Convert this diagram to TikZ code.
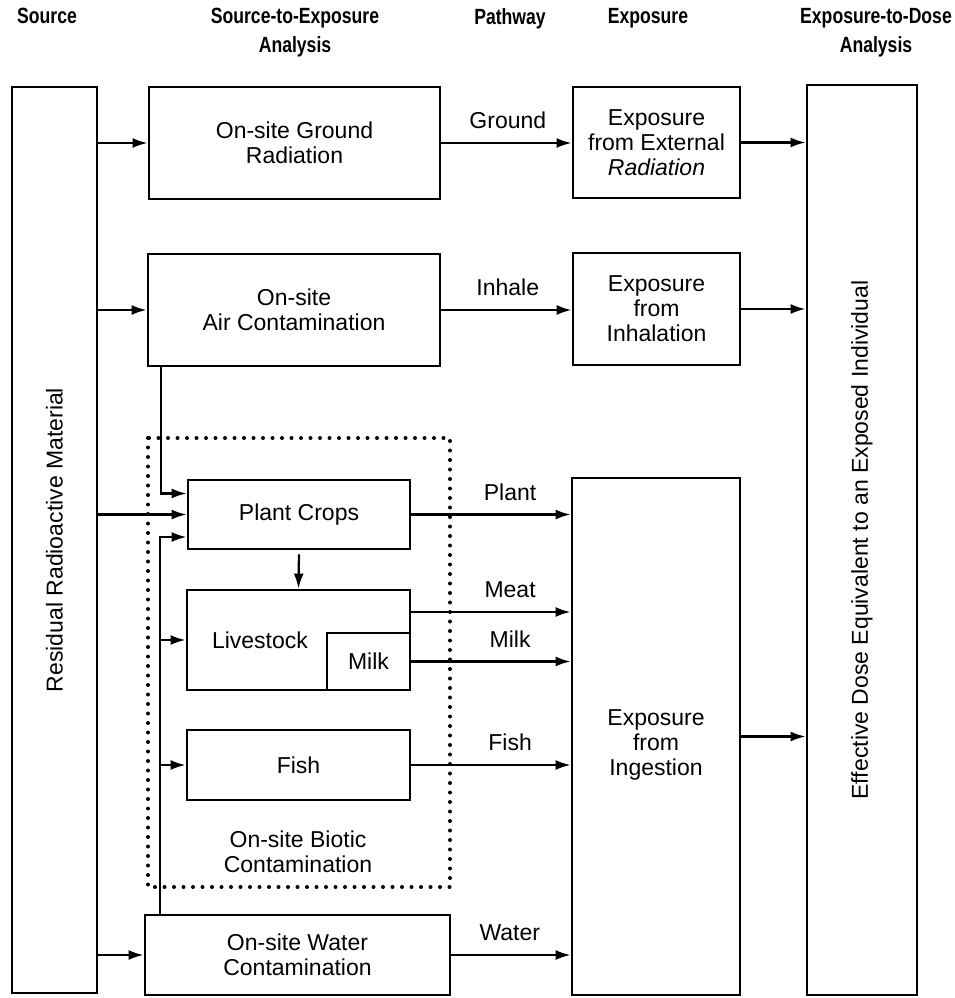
\documentclass[tikz,border=0pt]{standalone}
\usepackage{fontspec}
\setmainfont{Liberation Sans}
\newfontfamily\hdrfont[FakeStretch=0.8]{Liberation Sans}
\usetikzlibrary{arrows.meta,calc}
\begin{document}
\begin{tikzpicture}[x=1pt,y=-1pt,
  bodyf/.style={font={\fontsize{23}{25}\selectfont}},
  box/.style={draw, line width=2.8pt, inner sep=0pt, align=center, bodyf},
  conn/.style={line width=2.2pt, -{Latex[length=15pt,width=10pt]}},
  lbl/.style={bodyf, inner sep=0pt, above=13pt},
  hdr/.style={font={\hdrfont\bfseries\fontsize{22}{29}\selectfont}, align=center, anchor=north, inner sep=0pt},
  dotbox/.style={line width=4pt, line cap=round, dash pattern=on 0pt off 9.5pt}
]
\useasboundingbox (0,0) rectangle (955,998);

% headers
\node[hdr] (h1) at (47,8) {Source};
\node[hdr] (h2) at (295,8) {Source-to-Exposure\\Analysis};
\node[hdr] (h3) at (510,8) {Pathway};
\node[hdr] (h4) at (648,8) {Exposure};
\node[hdr] (h5) at (876,8) {Exposure-to-Dose\\Analysis};

% boxes
\node[box, minimum width=85pt, minimum height=906pt] (src) at (54.5,540) {};
\node[bodyf, rotate=90] (srct) at (src.center) {Residual Radioactive Material};
\node[box, minimum width=291pt, minimum height=112pt] (ground) at (294.5,143) {On-site Ground\\Radiation};
\node[box, minimum width=292pt, minimum height=112pt] (air) at (294,310) {On-site\\Air Contamination};
\node[box, minimum width=167pt, minimum height=111pt] (extrad) at (656.5,142.5) {Exposure\\from External\\\textit{Radiation}};
\node[box, minimum width=167pt, minimum height=112pt] (inhal) at (656.5,309) {Exposure\\from\\Inhalation};
\node[box, minimum width=168pt, minimum height=517pt] (ingest) at (656,736.5) {};
\node[bodyf, align=center] (ingt) at ([yshift=-8pt]ingest.center) {Exposure\\from\\Ingestion};
\node[box, minimum width=110pt, minimum height=910pt] (dose) at (862,540) {};
\node[bodyf, rotate=90] (doset) at (dose.center) {Effective Dose Equivalent to an Exposed Individual};

% biotic group
\draw[dotbox] (148,438) rectangle (450,887);
\node[box, minimum width=222pt, minimum height=69pt] (plant) at (299,514.5) {Plant Crops};
\node[box, minimum width=223pt, minimum height=100pt] (live) at (298.5,640) {};
\node[bodyf] (livet) at (260,640) {Livestock};
\node[box, minimum width=83pt, minimum height=57pt] (milk) at (368.5,661.5) {Milk};
\node[box, minimum width=223pt, minimum height=70pt] (fish) at (298.5,765) {Fish};
\node[bodyf, align=center] (biot) at (298,852) {On-site Biotic\\Contamination};
\node[box, minimum width=305pt, minimum height=80pt] (water) at (297.5,955) {On-site Water\\Contamination};

% source arrows
\draw[conn] (ground.west -| src.east) -- (ground.west);
\draw[conn] (air.west -| src.east) -- (air.west);
\draw[conn] (plant.west -| src.east) -- (plant.west);
\draw[conn] (water.west -| src.east) -- (water.west);

% air and water feeds into biotic
\draw[conn] ([xshift=14pt]air.south west) |- ([yshift=21pt]plant.west);
\draw[conn] ([xshift=16pt]water.north west) |- ([yshift=-22.5pt]plant.west);
\draw[conn] ([xshift=16pt]water.north west |- live.west) -- (live.west);
\draw[conn] ([xshift=16pt]water.north west |- fish.west) -- (fish.west);
\draw[conn, shorten <=4pt] (plant.south) -- (live.north);

% pathways
\draw[conn] (ground.east) -- (ground.east -| extrad.west) node[lbl, pos=0.51] {Ground};
\draw[conn] (air.east) -- (air.east -| inhal.west) node[lbl, pos=0.51] {Inhale};
\draw[conn] (plant.east) -- (plant.east -| ingest.west) node[lbl, pos=0.62] {Plant};
\draw[conn] ([yshift=28pt]live.east) -- ([yshift=28pt]live.east -| ingest.west) node[lbl, pos=0.62] {Meat};
\draw[conn] (milk.east) -- (milk.east -| ingest.west) node[lbl, pos=0.62] {Milk};
\draw[conn] (fish.east) -- (fish.east -| ingest.west) node[lbl, pos=0.62] {Fish};
\draw[conn] (water.east) -- (water.east -| ingest.west) node[lbl, pos=0.49] {Water};

% to dose
\draw[conn] (extrad.east) -- (extrad.east -| dose.west);
\draw[conn] (inhal.east) -- (inhal.east -| dose.west);
\draw[conn] (ingest.east) -- (ingest.east -| dose.west);
\end{tikzpicture}
\end{document}
